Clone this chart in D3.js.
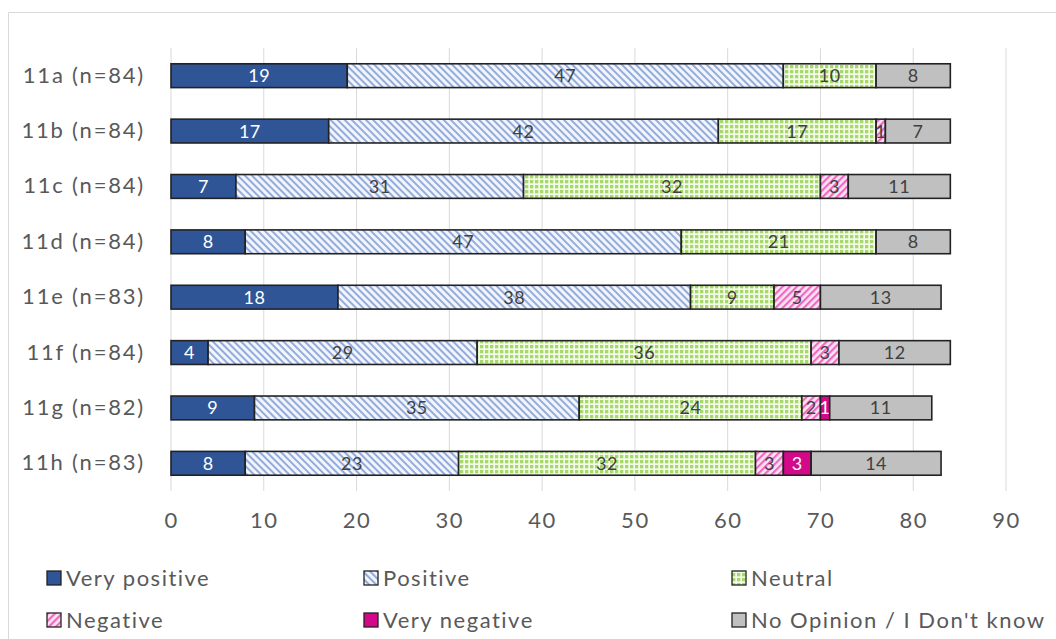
<!DOCTYPE html>
<html>
<head>
<meta charset="utf-8">
<script src="https://cdn.jsdelivr.net/npm/d3@7"></script>
<style>
  html, body { margin: 0; padding: 0; background: #fff; }
  svg { display: block; }
  text { font-family: Lato, "Open Sans", sans-serif; }
</style>
</head>
<body>
<svg id="chart" width="1056" height="639"></svg>
<script>
const categories = ["11a (n=84)", "11b (n=84)", "11c (n=84)", "11d (n=84)", "11e (n=83)", "11f (n=84)", "11g (n=82)", "11h (n=83)"];
const seriesNames = ["Very positive", "Positive", "Neutral", "Negative", "Very negative", "No Opinion / I Don't know"];
const veryPositive = [19, 17, 7, 8, 18, 4, 9, 8];
const positive     = [47, 42, 31, 47, 38, 29, 35, 23];
const neutral      = [10, 17, 32, 21, 9, 36, 24, 32];
const negative     = [0, 1, 3, 0, 5, 3, 2, 3];
const veryNegative = [0, 0, 0, 0, 0, 0, 1, 3];
const noOpinion    = [8, 7, 11, 8, 13, 12, 11, 14];
const xTicks = [0, 10, 20, 30, 40, 50, 60, 70, 80, 90];

const seriesValues = [veryPositive, positive, neutral, negative, veryNegative, noOpinion];

const svg = d3.select("#chart");
const defs = svg.append("defs");

// Patterns
const pPos = defs.append("pattern").attr("id", "pPos").attr("patternUnits", "userSpaceOnUse")
  .attr("width", 5).attr("height", 5).attr("patternTransform", "rotate(45)");
pPos.append("rect").attr("width", 5).attr("height", 5).attr("fill", "#f2f5fc");
pPos.append("rect").attr("width", 5).attr("height", 2).attr("fill", "#93acdc");

const pNeg = defs.append("pattern").attr("id", "pNeg").attr("patternUnits", "userSpaceOnUse")
  .attr("width", 5).attr("height", 5).attr("patternTransform", "rotate(-45)");
pNeg.append("rect").attr("width", 5).attr("height", 5).attr("fill", "#fbe3f2");
pNeg.append("rect").attr("width", 5).attr("height", 2.2).attr("fill", "#f06ac3");

const pNeu = defs.append("pattern").attr("id", "pNeu").attr("patternUnits", "userSpaceOnUse")
  .attr("width", 5).attr("height", 5);
pNeu.append("rect").attr("width", 5).attr("height", 5).attr("fill", "#a6d86a");
pNeu.append("rect").attr("x", 3.3).attr("width", 1.7).attr("height", 5).attr("fill", "#f3fbe9");
pNeu.append("rect").attr("y", 3.3).attr("width", 5).attr("height", 1.7).attr("fill", "#f3fbe9");

const fills = ["#2f5597", "url(#pPos)", "url(#pNeu)", "url(#pNeg)", "#d4098a", "#c0c0c0"];
const labelColors = ["#ffffff", "#404040", "#404040", "#404040", "#ffffff", "#404040"];

// Outer border
svg.append("path").attr("d", "M8.5,639 V12.5 H1056").attr("fill", "none").attr("stroke", "#d9d9d9").attr("stroke-width", 1);

const x = d3.scaleLinear().domain([0, 90]).range([171, 1006]);
const y = d3.scaleBand().domain(categories).range([48, 491]).paddingInner(0.57).paddingOuter(0.285);

// Gridlines
svg.append("g").selectAll("line").data(xTicks).join("line")
  .attr("x1", d => x(d)).attr("x2", d => x(d))
  .attr("y1", 48).attr("y2", 491)
  .attr("stroke", "#d9d9d9").attr("stroke-width", 1);

// X axis
const xAxis = svg.append("g").attr("transform", "translate(0,491)")
  .call(d3.axisBottom(x).tickValues(xTicks).tickSize(0).tickPadding(21));
xAxis.select(".domain").remove();
xAxis.selectAll("text").attr("fill", "#595959").style("font-size", "22px")
  .style("font-family", "Lato, sans-serif").style("letter-spacing", "1.5px");

// Y axis
const yAxis = svg.append("g").attr("transform", "translate(171,0)")
  .call(d3.axisLeft(y).tickSize(0).tickPadding(26));
yAxis.select(".domain").remove();
yAxis.selectAll("text").attr("fill", "#595959").style("font-size", "22px")
  .style("font-family", "Lato, sans-serif").style("letter-spacing", "1.8px");

// Stack data
const rows = categories.map((c, i) => {
  const r = { cat: c };
  seriesNames.forEach((s, j) => r[s] = seriesValues[j][i]);
  return r;
});
const stacked = d3.stack().keys(seriesNames)(rows);

const groups = svg.append("g").selectAll("g").data(stacked).join("g")
  .attr("data-series", d => d.key);

groups.each(function(s, j) {
  const g = d3.select(this);
  const segs = s.filter(d => d[1] - d[0] > 0);
  g.selectAll("rect").data(segs).join("rect")
    .attr("x", d => x(d[0]))
    .attr("y", d => y(d.data.cat))
    .attr("width", d => x(d[1]) - x(d[0]))
    .attr("height", y.bandwidth())
    .attr("fill", fills[j])
    .attr("stroke", "#222")
    .attr("stroke-width", 1.6);
  g.selectAll("text").data(segs).join("text")
    .attr("x", d => (x(d[0]) + x(d[1])) / 2)
    .attr("y", d => y(d.data.cat) + y.bandwidth() / 2)
    .attr("dy", "0.36em")
    .attr("text-anchor", "middle")
    .attr("fill", labelColors[j])
    .style("font-size", "18px")
    .style("letter-spacing", "0.5px")
    .text(d => d[1] - d[0]);
});

// Legend
const legendPos = [[47, 578], [364, 578], [732, 578], [47, 620], [364, 620], [732, 620]];
const lg = svg.append("g").selectAll("g").data(seriesNames).join("g")
  .attr("transform", (d, i) => `translate(${legendPos[i][0]},${legendPos[i][1]})`);
lg.append("rect").attr("x", 0).attr("y", -7).attr("width", 14).attr("height", 14)
  .attr("fill", (d, i) => fills[i]).attr("stroke", "#222").attr("stroke-width", 1.3);
lg.append("text").attr("x", 19).attr("y", 0).attr("dy", "0.36em")
  .attr("fill", "#595959").style("font-size", "22px").style("letter-spacing", "1.5px").text(d => d);
</script>
</body>
</html>
